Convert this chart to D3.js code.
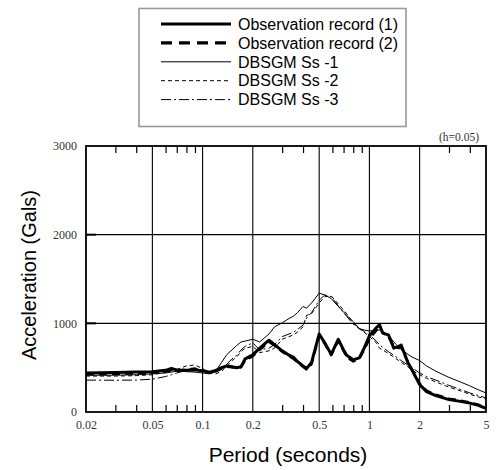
<!DOCTYPE html>
<html>
<head>
<meta charset="utf-8">
<script src="https://cdn.jsdelivr.net/npm/d3@7"></script>
<style>
  body { margin: 0; background: #fff; }
  svg { display: block; }
</style>
</head>
<body>
<div id="chart"></div>
<script>
// periods (s) shared by all spectra
const periods = [0.02, 0.03, 0.04, 0.05, 0.06, 0.065, 0.07, 0.08, 0.09, 0.1,
    0.11, 0.12, 0.13, 0.14, 0.15, 0.16, 0.17, 0.18, 0.2, 0.22,
    0.25, 0.27, 0.3, 0.33, 0.35, 0.37, 0.4, 0.42, 0.45, 0.5,
    0.54, 0.59, 0.65, 0.7, 0.73, 0.8, 0.87, 0.93, 1.0, 1.1,
    1.15, 1.2, 1.3, 1.4, 1.5, 1.55, 1.7, 1.8, 2.0, 2.2,
    2.5, 3, 3.5, 4, 4.5, 5]

const obs1 = [440, 445, 450, 455, 470, 490, 475, 470, 475, 465,
    450, 470, 500, 520, 510, 500, 510, 600, 645, 720,
    810, 760, 690, 640, 620, 570, 520, 490, 560, 880,
    780, 650, 820, 700, 640, 590, 610, 720, 860, 950,
    985, 890, 870, 720, 740, 755, 560, 473, 310, 230,
    185, 140, 120, 100, 75, 40]

const obs2 = [425, 430, 435, 440, 455, 470, 465, 480, 490, 470,
    445, 460, 490, 510, 505, 495, 505, 580, 630, 700,
    790, 750, 680, 630, 600, 560, 510, 480, 540, 860,
    770, 640, 800, 690, 620, 570, 600, 700, 820, 920,
    960, 900, 850, 740, 720, 730, 560, 480, 322, 242,
    196, 150, 130, 108, 82, 48]

const ss1 = [415, 415, 420, 430, 440, 450, 460, 455, 450, 440,
    430, 460, 560, 650, 700, 750, 790, 800, 820, 790,
    880, 960, 1005, 1055, 1080, 1120, 1190, 1170, 1230, 1340,
    1320, 1280, 1190, 1130, 1090, 1020, 940, 925, 915, 920,
    925, 905, 870, 790, 730, 710, 650, 620, 580, 520,
    460, 390, 340, 295, 250, 215]

const ss2 = [405, 405, 410, 420, 450, 470, 480, 520, 530, 490,
    440, 430, 460, 520, 580, 620, 680, 720, 740, 670,
    690, 720, 820, 850, 870, 900, 960, 1090, 1110, 1230,
    1300, 1310, 1220, 1150, 1110, 1000, 940, 900, 850, 780,
    720, 700, 660, 620, 580, 560, 510, 470, 420, 380,
    340, 280, 240, 200, 170, 145]

const ss3 = [360, 358, 360, 370, 400, 420, 440, 470, 480, 470,
    450, 450, 480, 540, 600, 640, 700, 740, 780, 700,
    720, 760, 850, 880, 900, 930, 980, 1060, 1120, 1260,
    1320, 1300, 1200, 1120, 1080, 990, 940, 910, 870, 800,
    760, 730, 680, 640, 600, 580, 530, 500, 440, 400,
    360, 300, 255, 215, 185, 160]

const seriesNames = ['Observation record (1)', 'Observation record (2)', 'DBSGM Ss -1', 'DBSGM Ss -2', 'DBSGM Ss -3']
const xLabelTicks = [0.02, 0.05, 0.1, 0.2, 0.5, 1, 2, 5]
const xMinorTicks = [0.03, 0.04, 0.06, 0.07, 0.08, 0.09, 0.3, 0.4, 0.6, 0.7, 0.8, 0.9, 3, 4]
const yTicks = [0, 1000, 2000, 3000]

const width = 496
const height = 470
const plotLeft = 86, plotRight = 486, plotTop = 146, plotBottom = 412

const svg = d3.select('#chart')
    .append('svg')
    .attr('width', width)
    .attr('height', height)

const x = d3.scaleLog().domain([0.02, 5]).range([plotLeft, plotRight])
const y = d3.scaleLinear().domain([0, 3000]).range([plotBottom, plotTop])

// grid
svg.append('g')
    .selectAll('line')
    .data(xLabelTicks.slice(1, -1))
    .join('line')
    .attr('x1', d => x(d)).attr('x2', d => x(d))
    .attr('y1', plotTop).attr('y2', plotBottom)
    .attr('stroke', '#000')
    .attr('stroke-width', 1.1)

svg.append('g')
    .selectAll('line')
    .data(yTicks.slice(1, -1))
    .join('line')
    .attr('x1', plotLeft).attr('x2', plotRight)
    .attr('y1', d => y(d)).attr('y2', d => y(d))
    .attr('stroke', '#000')
    .attr('stroke-width', 1.1)

// minor ticks, top and bottom, pointing inwards
svg.append('g')
    .attr('transform', `translate(0,${plotBottom})`)
    .call(d3.axisBottom(x).tickValues(xMinorTicks).tickSize(-7).tickFormat(''))
    .call(g => g.select('.domain').remove())
    .call(g => g.selectAll('line').attr('stroke-width', 1.2))

svg.append('g')
    .attr('transform', `translate(0,${plotTop})`)
    .call(d3.axisTop(x).tickValues(xMinorTicks).tickSize(-7).tickFormat(''))
    .call(g => g.select('.domain').remove())
    .call(g => g.selectAll('line').attr('stroke-width', 1.2))

// tick labels
const fmt = d => String(d)

svg.append('g')
    .attr('transform', `translate(0,${plotBottom})`)
    .call(d3.axisBottom(x).tickValues(xLabelTicks).tickSize(0).tickPadding(8).tickFormat(fmt))
    .call(g => g.select('.domain').remove())
    .call(g => g.selectAll('text')
        .attr('font-family', '"Liberation Serif", "DejaVu Serif", serif')
        .attr('font-size', 12)
        .attr('fill', '#333'))

svg.append('g')
    .attr('transform', `translate(${plotLeft},0)`)
    .call(d3.axisLeft(y).tickValues(yTicks).tickSize(0).tickPadding(9).tickFormat(fmt))
    .call(g => g.select('.domain').remove())
    .call(g => g.selectAll('text')
        .attr('font-family', '"Liberation Serif", "DejaVu Serif", serif')
        .attr('font-size', 12)
        .attr('fill', '#333'))

// short heavy marks where the y grid meets the frame
svg.append('g')
    .selectAll('line')
    .data(yTicks.slice(1, -1))
    .join('line')
    .attr('x1', plotLeft).attr('x2', plotLeft + 10)
    .attr('y1', d => y(d)).attr('y2', d => y(d))
    .attr('stroke', '#000')
    .attr('stroke-width', 2)

// spectra
const line = d3.line()
    .x(d => x(d[0]))
    .y(d => y(d[1]))

const styles = [
    { values: obs1, width: 3, dash: null },
    { values: obs2, width: 2.4, dash: '8,5' },
    { values: ss1, width: 1, dash: null },
    { values: ss2, width: 1, dash: '4,3' },
    { values: ss3, width: 1, dash: '10,3,2,3' }
]

const plot = svg.append('g')

styles.slice().reverse().forEach(s => {
    plot.append('path')
        .datum(periods.map((p, i) => [p, s.values[i]]))
        .attr('d', line)
        .attr('fill', 'none')
        .attr('stroke', '#000')
        .attr('stroke-width', s.width)
        .attr('stroke-linejoin', 'round')
        .attr('stroke-dasharray', s.dash)
})

// frame
svg.append('rect')
    .attr('x', plotLeft)
    .attr('y', plotTop)
    .attr('width', plotRight - plotLeft)
    .attr('height', plotBottom - plotTop)
    .attr('fill', 'none')
    .attr('stroke', '#000')
    .attr('stroke-width', 1.8)

svg.append('text')
    .attr('x', 479)
    .attr('y', 141)
    .attr('text-anchor', 'end')
    .attr('font-family', '"Liberation Serif", "DejaVu Serif", serif')
    .attr('font-size', 11.5)
    .attr('fill', '#333')
    .text('(h=0.05)')

// axis titles
svg.append('text')
    .attr('x', 288)
    .attr('y', 462)
    .attr('text-anchor', 'middle')
    .attr('font-family', '"Liberation Sans", Arial, sans-serif')
    .attr('font-size', 21)
    .text('Period (seconds)')

svg.append('text')
    .attr('transform', 'translate(36,275) rotate(-90)')
    .attr('text-anchor', 'middle')
    .attr('font-family', '"Liberation Sans", Arial, sans-serif')
    .attr('font-size', 20)
    .text('Acceleration (Gals)')

// legend
const legend = svg.append('g')

legend.append('rect')
    .attr('x', 139)
    .attr('y', 8.5)
    .attr('width', 267)
    .attr('height', 118)
    .attr('fill', '#fff')
    .attr('stroke', '#999')
    .attr('stroke-width', 1.6)

const legendDash = [null, '11,7', null, '4,3', '10,3,2,3']

const item = legend.selectAll('g.item')
    .data(seriesNames)
    .join('g')
    .attr('class', 'item')
    .attr('transform', (d, i) => `translate(0,${24 + i * 18.9})`)

item.append('line')
    .attr('x1', 161).attr('x2', 231)
    .attr('stroke', '#000')
    .attr('stroke-width', (d, i) => i < 2 ? 3.2 : 1)
    .attr('stroke-dasharray', (d, i) => legendDash[i])

item.append('text')
    .attr('x', 238)
    .attr('dy', '0.36em')
    .attr('font-family', '"Liberation Sans", Arial, sans-serif')
    .attr('font-size', 16)
    .text(d => d)
</script>
</body>
</html>
